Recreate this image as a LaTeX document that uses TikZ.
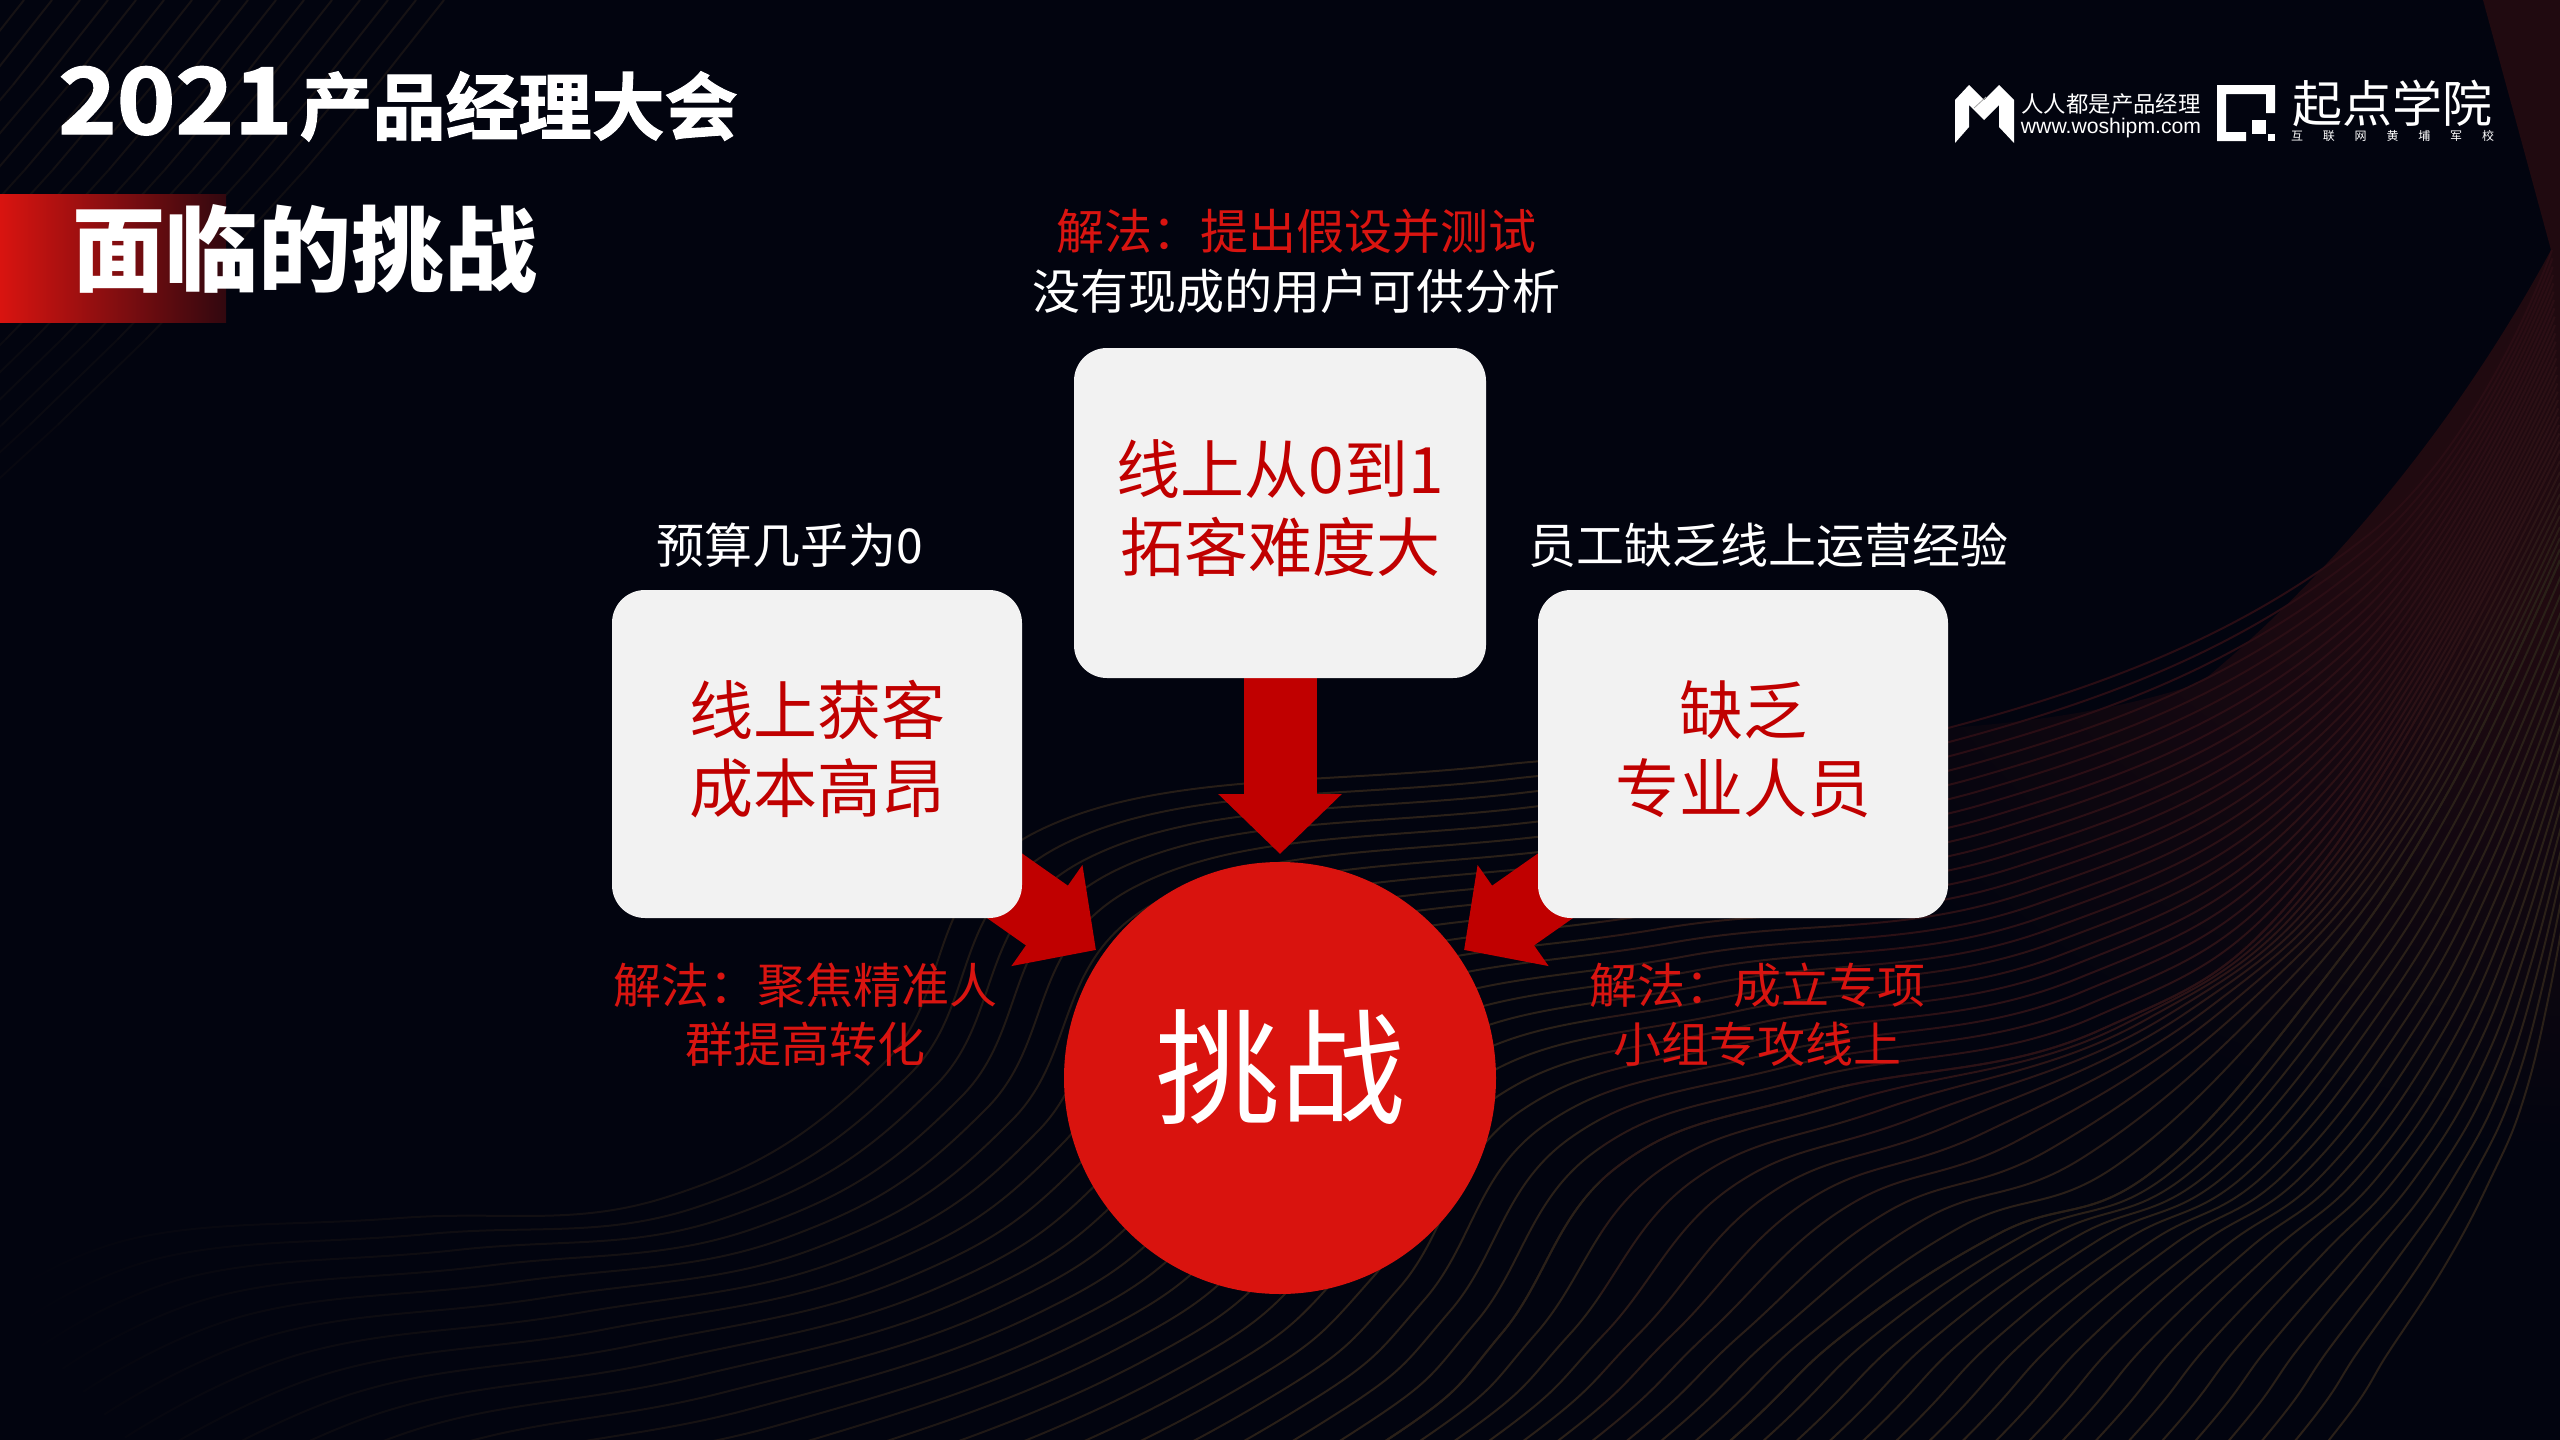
\documentclass[tikz,border=0pt]{standalone}
\usepackage{fontspec}
\setmainfont{Noto Sans CJK SC}
\newfontfamily\latinf{Liberation Sans}
\newfontfamily\heavyf[FakeBold=1.6]{Noto Sans CJK SC Bold}
\usetikzlibrary{arrows.meta,fadings,calc}
\pgfdeclarelayer{bgl}
\pgfdeclarelayer{arw}
\pgfsetlayers{bgl,arw,main}
\definecolor{bgc}{HTML}{02040F}
\definecolor{boxc}{HTML}{F2F2F2}
\definecolor{darkred}{HTML}{C00000}
\definecolor{solred}{HTML}{D91410}
\definecolor{circred}{HTML}{D9130E}
\definecolor{glowc}{HTML}{200A10}
\definecolor{lineR}{HTML}{2A0D14}
\definecolor{lineM}{HTML}{2C1216}
\definecolor{lineB}{HTML}{2A2018}
\colorlet{lineRa}{lineR!50!lineB}
\colorlet{lineMa}{lineM!50!lineB}
\pgfdeclareradialshading{redglow}{\pgfpoint{0bp}{0bp}}{color(0bp)=(glowc);color(10bp)=(glowc);color(25bp)=(bgc);color(50bp)=(bgc)}
\tikzfading[name=leftfade,left color=transparent!0,right color=transparent!100]
\def\AX{{0,140,400,667,884,1040,1500,1948,2367,2552}}
\def\AY{{1300,1237,1218,1197,1063,830,765,728,536,250}}
\def\BX{{500,800,1100,1387,1502,1617,1817,2100,2321,2560}}
\def\BY{{1850,1700,1600,1440,1333,1167,1093,1030,865,450}}
\def\CX{{1000,1300,1500,1731,1846,2000,2152,2321,2447,2560}}
\def\CY{{1900,1800,1640,1440,1333,1233,1172,983,794,560}}
\def\DX{{1700,1950,2150,2329,2390,2447,2490,2523,2550,2575}}
\def\DY{{1900,1800,1650,1440,1350,1262,1180,1101,990,850}}
\newcommand\famlines[7]{%
  \foreach \i in {0,...,#5}{%
    \pgfmathsetmacro\tlam{\i/#5}%
    \gdef\pts{}%
    \foreach \k in {0,...,9}{%
      \pgfmathsetmacro\px{#1[\k]+(#3[\k]-#1[\k])*\tlam}%
      \pgfmathsetmacro\py{#2[\k]+(#4[\k]-#2[\k])*\tlam}%
      \xdef\pts{\pts (\px,\py)}%
    }%
    \pgfmathsetmacro\pc{100*\tlam}%
    \edef\temp{\noexpand\draw[waveline,color=#7!\pc!#6] plot[smooth,tension=.7] coordinates {\pts};}%
    \temp
  }%
}
\newcommand\allfam[2]{%
  \famlines{\AX}{\AY}{\BX}{\BY}{24}{#1}{#2}%
  \famlines{\BX}{\BY}{\CX}{\CY}{10}{#2}{lineB}%
  \famlines{\CX}{\CY}{\DX}{\DY}{18}{lineB}{lineB}%
}
\tikzset{
  x=1pt,y=-1pt,
  waveline/.style={line width=2pt},
  cornerline/.style={line width=2pt},
  card/.style={fill=boxc,rounded corners=33pt,inner sep=0pt},
  cardtext/.style={text=darkred,font=\fontsize{64}{78}\selectfont,align=center,inner sep=0pt},
  note/.style={font=\fontsize{48}{59}\selectfont,align=center,inner sep=0pt},
  whitenote/.style={note,text=white},
  rednote/.style={note,text=solred},
  bigarrow/.style={draw=darkred,line width=73pt,-{Triangle[length=60pt,width=120pt]},color=darkred},
  logotext/.style={text=white,inner sep=0pt}
}
\begin{document}
\begin{tikzpicture}
\useasboundingbox (0,0) rectangle (2560,1440);
\begin{pgfonlayer}{bgl}
  \fill[bgc] (0,0) rectangle (2560,1440);
  \begin{scope}
    \clip (0,0) rectangle (2560,1440);
    \begin{scope}
      \clip (2483,0) -- (2551,250) .. controls (2470,400) and (2350,560) .. (2200,683)
        .. controls (2120,710) and (2030,722) .. (1948,728) -- (1948,1200) -- (2560,1200) -- (2560,0) -- cycle;
      \shade[shading=redglow] (2560,250) circle[radius=900];
    \end{scope}
    \begin{scope}
      \clip (0,0) rectangle (1600,1440);
      \allfam{lineB}{lineB}
    \end{scope}
    \begin{scope}
      \clip (1600,0) rectangle (1850,1440);
      \allfam{lineRa}{lineMa}
    \end{scope}
    \begin{scope}
      \clip (1850,0) rectangle (2560,1440);
      \allfam{lineR}{lineM}
    \end{scope}
    \fill[bgc,path fading=leftfade] (0,760) rectangle (1300,1440);
    \fill[bgc] (-2,1000) rectangle (30,1440);
    \foreach \i in {0,...,16}{%
      \foreach \j in {0,...,7}{%
        \pgfmathsetmacro\yA{\j*85}%
        \pgfmathsetmacro\yB{(\j+1)*85}%
        \pgfmathsetmacro\xA{444-28*\i-0.76*\yA-0.00035*\yA*\yA}%
        \pgfmathsetmacro\xB{444-28*\i-0.76*\yB-0.00035*\yB*\yB}%
        \pgfmathsetmacro\fadepc{max(0,50-\j*7.2)}%
        \draw[cornerline,color=lineB!\fadepc!bgc] (\xA,\yA) -- (\xB,\yB);
      }%
    }
  \end{scope}
  \shade[left color=solred,right color=solred!22!bgc] (0,194) rectangle (226,322);
\end{pgfonlayer}

% title
\node[text=white,anchor=base west,inner sep=0pt] (conf) at (58,134)
  {\heavyf\fontsize{92}{92}\selectfont\scalebox{1.08}[1]{2021}\hspace{7pt}\fontsize{73}{74}\selectfont 产品经理大会};
\node[text=white,anchor=center,inner sep=0pt,font=\bfseries\fontsize{93}{100}\selectfont] (headline) at (305,249) {面临的挑战};

% logos
\fill[white] (1955,100) -- (1969,85) -- (1984,100) -- (1999,85) -- (2014,100) -- (2014,143)
  -- (1999,127) -- (1999,105) -- (1984,120) -- (1969,105) -- (1969,127) -- (1955,143) -- cycle;
\draw[gray!70,line width=.8pt] (1974,108) -- (1986,97);
\node[logotext,anchor=center,font=\fontsize{22.4}{24}\selectfont] (mname) at (2111,104) {人人都是产品经理};
\node[logotext,anchor=center,font=\latinf\fontsize{21.2}{24}\selectfont] (murl) at (2111,128) {www.woshipm.com};
\fill[white] (2217,85) -- (2275,85) -- (2275,113) -- (2266,113) -- (2266,94) -- (2226,94) -- (2226,132)
  -- (2246,132) -- (2246,141) -- (2217,141) -- cycle;
\fill[white] (2252,120) rectangle (2266,134);
\fill[white] (2268,134) rectangle (2275,141);
\node[logotext,anchor=center,font=\fontsize{50}{52}\selectfont] (qname) at (2392.5,103) {起点学院};
\node[logotext,anchor=center,font=\fontsize{12}{14}\selectfont] (qsub) at (2392.5,136)
  {\hbox to 203pt{互\hfill 联\hfill 网\hfill 黄\hfill 埔\hfill 军\hfill 校}};

% cards
\node[card,minimum width=412pt,minimum height=330pt] (top) at (1280,513) {};
\node[cardtext] (topText) at (1280,508) {线上从0到1\\拓客难度大};
\node[card,minimum width=410pt,minimum height=328pt] (left) at (817,754) {};
\node[cardtext] (leftText) at (817,749) {线上获客\\成本高昂};
\node[card,minimum width=410pt,minimum height=328pt] (right) at (1743,754) {};
\node[cardtext] (rightText) at (1743,749) {缺乏\\专业人员};
\node[circle,fill=circred,minimum size=432pt,inner sep=0pt] (core) at (1280,1078) {};
\node[text=white,inner sep=0pt,font=\fontsize{125}{125}\selectfont] (corelabel) at (1280,1067) {挑战};

% connectors
\coordinate (tipT) at (1280,854);
\coordinate (tipL) at (1096,950);
\coordinate (tipR) at (1464,950);
\begin{pgfonlayer}{arw}
  \draw[bigarrow] (top.center) -- (tipT);
  \draw[bigarrow] (left.center) -- (tipL);
  \draw[bigarrow] (right.center) -- (tipR);
\end{pgfonlayer}

% notes
\node[rednote] (solT) at (1296,231) {解法：提出假设并测试};
\node[whitenote] (probT) at (1296,291) {没有现成的用户可供分析};
\node[whitenote] (probL) at (790,545) {预算几乎为0};
\node[whitenote] (probR) at (1768,545) {员工缺乏线上运营经验};
\node[rednote] (solL) at (805,1015) {解法：聚焦精准人\\群提高转化};
\node[rednote] (solR) at (1757,1015) {解法：成立专项\\小组专攻线上};
\end{tikzpicture}
\end{document}
